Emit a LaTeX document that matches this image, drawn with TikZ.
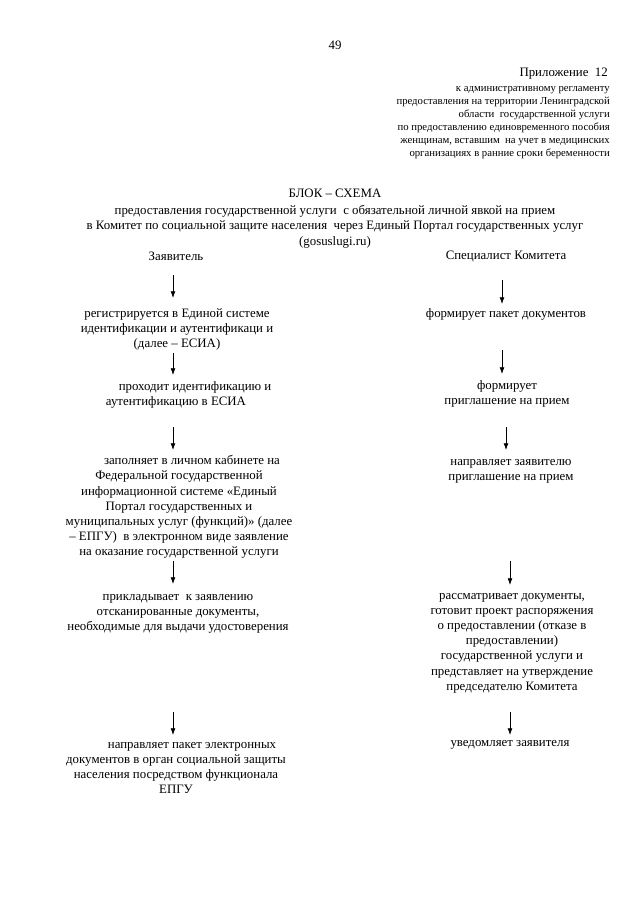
\documentclass[tikz,border=0pt]{standalone}
\usepackage{fontspec}
\setmainfont{Liberation Serif}
\usetikzlibrary{arrows.meta}

\tikzset{
    txt/.style={align=center, inner sep=0pt, font=\fontsize{12}{14.2}\selectfont},
    klein/.style={align=right, inner sep=0pt, font=\fontsize{10}{12.2}\selectfont},
    pfeil/.style={-{Latex[length=2.2mm,width=1.6mm]}, line width=0.7pt},
}

\begin{document}
\begin{tikzpicture}[x=0.0328cm, y=-0.0328cm]

            \useasboundingbox (0,0) rectangle (640,905);

            % Kopf: Seitenzahl und Anlage
            \node[txt] (seite) at (335,45) {49};
            \node[txt, anchor=east] (anlage) at (608,74) {Приложение~~12};
            \node[klein, anchor=east] (anlagetext) at (610,122.5)
            {к административному регламенту\\
             предоставления на территории Ленинградской\\
             области~~государственной услуги\\
             по предоставлению единовременного пособия\\
             женщинам, вставшим~~на учет в медицинских\\
             организациях в ранние сроки беременности};

            % Titel
            \node[txt] (titel) at (335,193) {БЛОК – СХЕМА};
            \node[txt, font=\fontsize{12}{14.6}\selectfont] (untertitel) at (335,226.5)
            {предоставления государственной услуги~~с обязательной личной явкой на прием\\
             в Комитет по социальной защите населения~~через Единый Портал государственных услуг\\
             (gosuslugi.ru)};

            % Spaltenköpfe
            \node[txt] (zayav) at (176,256) {Заявитель};
            \node[txt] (spec) at (506,256) {Специалист Комитета};

            % Linke Spalte (Antragsteller)
            \node[txt] (reg) at (177,329.5)
            {регистрируется в Единой системе\\
             идентификации и аутентификаци и\\
             (далее – ЕСИА)};
            \node[txt] (ident) at (176,395)
            {\hspace*{12.5mm}проходит идентификацию и\\
             аутентификацию в ЕСИА};
            \node[txt] (zapoln) at (179,507)
            {\hspace*{8.5mm}заполняет в личном кабинете на\\
             Федеральной государственной\\
             информационной системе «Единый\\
             Портал государственных и\\
             муниципальных услуг (функций)» (далее\\
             – ЕПГУ)~~в электронном виде заявление\\
             на оказание государственной услуги};
            \node[txt] (prikl) at (178,614)
            {прикладывает~~к заявлению\\
             отсканированные документы,\\
             необходимые для выдачи удостоверения};
            \node[txt] (napr) at (176,768)
            {\hspace*{10.5mm}направляет пакет электронных\\
             документов в орган социальной защиты\\
             населения посредством функционала\\
             ЕПГУ};

            % Rechte Spalte (Spezialist)
            \node[txt] (formpaket) at (506,314) {формирует пакет документов};
            \node[txt] (formeinl) at (507,394)
            {формирует\\
             приглашение на прием};
            \node[txt] (napreinl) at (511,471)
            {направляет заявителю\\
             приглашение на прием};
            \node[txt] (rassm) at (512,643)
            {рассматривает документы,\\
             готовит проект распоряжения\\
             о предоставлении (отказе в\\
             предоставлении)\\
             государственной услуги и\\
             представляет на утверждение\\
             председателю Комитета};
            \node[txt] (uved) at (510,745) {уведомляет заявителя};

            % Pfeile: Nummer / x / oben / unten
            \foreach \i/\x/\ya/\yb in {1/173/275/298, 2/173/353/375, 3/173/427/450,
                    4/173/561/584, 5/173/712/735, 6/502/280/304, 7/502/350/374,
                    8/506/427/450, 9/510/561/585, 10/510/712/735} {
                    \coordinate (pa\i) at (\x,\ya);
                    \coordinate (pb\i) at (\x,\yb);
                    \draw[pfeil] (pa\i) -- (pb\i);
                }

\end{tikzpicture}
\end{document}
